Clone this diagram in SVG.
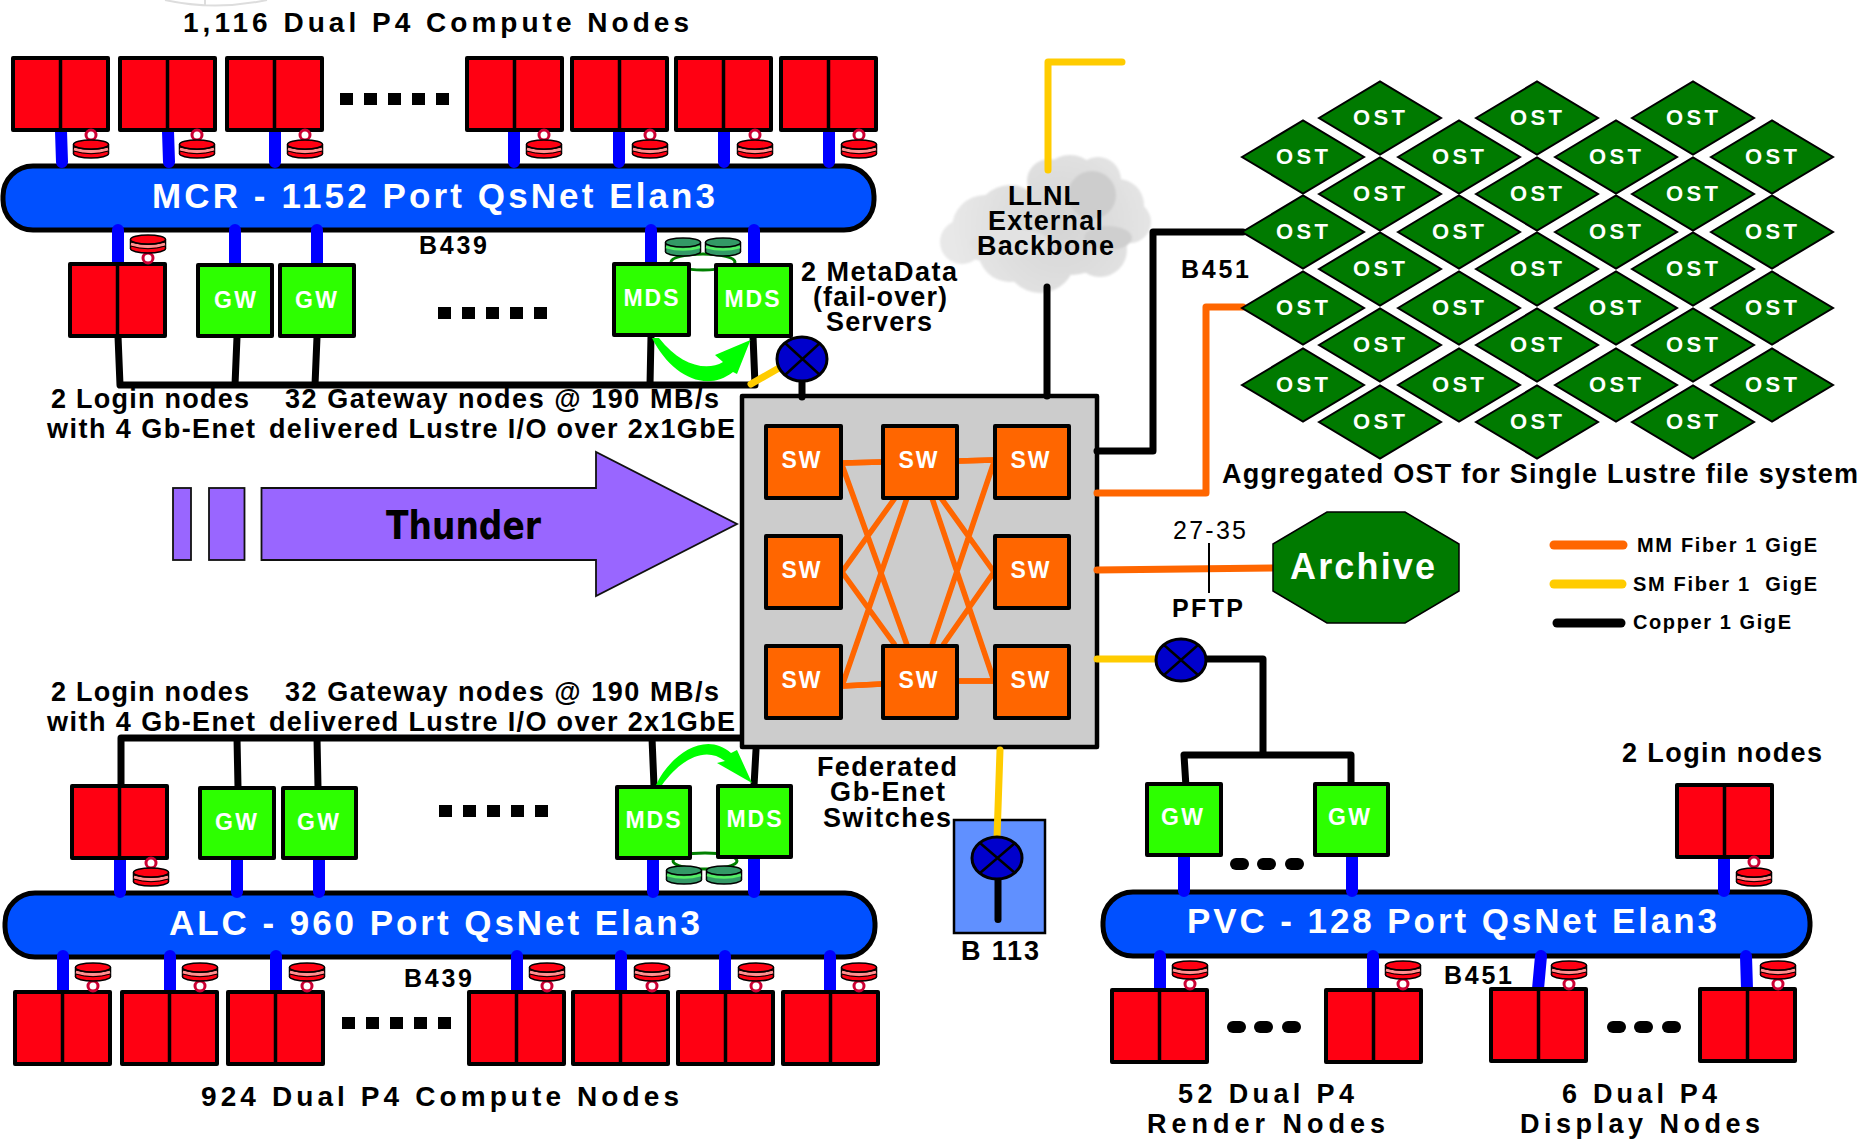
<svg xmlns="http://www.w3.org/2000/svg" width="1876" height="1141" viewBox="0 0 1876 1141">
<style>
text{font-family:"Liberation Sans",Arial,sans-serif;font-weight:bold;fill:#000}
.lb{font-size:27px}
.bus{fill:#0050ff;stroke:#000;stroke-width:5}
.bt{font-size:35px;fill:#fff}
.nt{font-size:23px;fill:#fff;text-anchor:middle}
.red{fill:#ff0012;stroke:#000;stroke-width:4;stroke-linejoin:round}
.gr{fill:#2dff00;stroke:#000;stroke-width:4;stroke-linejoin:round}
.sw{fill:#ff6600;stroke:#000;stroke-width:4;stroke-linejoin:round}
.ln{fill:none;stroke-linecap:round;stroke-linejoin:round}
.bl{stroke:#0000ff;stroke-width:12}
.k{stroke:#000;stroke-width:7}
.o{stroke:#ff6600;stroke-width:7}
.oi{stroke:#ff6600;stroke-width:5.5;stroke-linecap:butt}
.y{stroke:#ffcc00;stroke-width:7}
.ost{fill:#007a00;stroke:#000;stroke-width:2}
.ot{font-size:22px;fill:#fff;text-anchor:middle}
.x{fill:#0000cc;stroke:#000;stroke-width:3}
.pu{fill:#9966ff;stroke:#111;stroke-width:1.800}
</style>
<defs>
<g id="cn"><rect class="red" x="0" y="0" width="95" height="72"/><line x1="47.500" y1="0" x2="47.500" y2="72" stroke="#000" stroke-width="3.500"/></g>
<g id="disk"><ellipse cx="0" cy="4.500" rx="17.500" ry="4.500" fill="#ff0012" stroke="#000" stroke-width="1.500"/><rect x="-17.500" y="-4.500" width="35" height="9" fill="#ff0012"/><path d="M-17.500-4.500V4.500M17.500-4.500V4.500" stroke="#000" stroke-width="1.500"/><path d="M-17 0Q0 5 17 0" fill="none" stroke="#ff9090" stroke-width="3"/><path d="M-17.500 2Q0 7.500 17.500 2M-17.500-2Q0 3 17.500-2" fill="none" stroke="#000" stroke-width="1"/><ellipse cx="0" cy="-4.500" rx="17.500" ry="4.500" fill="#ff0012" stroke="#000" stroke-width="1.500"/></g>
<g id="gdisk"><ellipse cx="0" cy="4.500" rx="17.500" ry="4.500" fill="#339966" stroke="#000" stroke-width="1.500"/><rect x="-17.500" y="-4.500" width="35" height="9" fill="#339966"/><path d="M-17.500-4.500V4.500M17.500-4.500V4.500" stroke="#000" stroke-width="1.500"/><path d="M-17 0Q0 5 17 0" fill="none" stroke="#55ee66" stroke-width="2.500"/><ellipse cx="0" cy="-4.500" rx="17.500" ry="4.500" fill="#339966" stroke="#000" stroke-width="1.500"/></g>
<circle id="ring" r="5" fill="#fff" stroke="#cc0033" stroke-width="3"/>
<g id="dots"><rect x="0" width="13" height="12"/><rect x="24" width="13" height="12"/><rect x="48" width="13" height="12"/><rect x="72" width="13" height="12"/><rect x="96" width="13" height="12"/></g>
<g id="rd"><rect x="0" width="19" height="12" rx="6"/><rect x="27" width="19" height="12" rx="6"/><rect x="55" width="19" height="12" rx="6"/></g>
<polygon id="d" class="ost" points="-61,0 0,-36.500 61,0 0,36.500"/>
<radialGradient id="cg" gradientUnits="userSpaceOnUse" cx="1060" cy="225" r="110"><stop offset="0" stop-color="#d4d4d4"/><stop offset="1" stop-color="#e8e8e8"/></radialGradient>
<filter id="bf"><feGaussianBlur stdDeviation="1.200"/></filter>
</defs>

<path d="M165 0Q215 11 267 0M205 0V5" fill="none" stroke="#ddd" stroke-width="2"/>

<g id="cloud" filter="url(#bf)">
<g fill="url(#cg)"><circle cx="1049" cy="181" r="22"/><circle cx="1098" cy="180" r="23"/><circle cx="1118" cy="205" r="26"/><circle cx="1130" cy="222" r="21"/><circle cx="1100" cy="250" r="27"/><circle cx="1040" cy="258" r="35"/><circle cx="985" cy="228" r="33"/><circle cx="962" cy="242" r="22"/><circle cx="1010" cy="250" r="32"/><circle cx="1070" cy="225" r="50"/><circle cx="1010" cy="220" r="35"/><circle cx="1070" cy="185" r="30"/></g>
<ellipse cx="1092" cy="195" rx="24" ry="24" fill="#cdcdcd"/><ellipse cx="1108" cy="238" rx="24" ry="12" fill="#cfcfcf"/><ellipse cx="1010" cy="243" rx="40" ry="14" fill="#e2e2e2"/>
</g>

<g id="mcr"><rect class="bus" x="3" y="166" width="871" height="64" rx="30"/></g>
<g id="alc"><rect class="bus" x="5" y="893" width="870" height="64" rx="30"/></g>
<g id="pvc"><rect class="bus" x="1103" y="892" width="707" height="64" rx="30"/></g>

<g id="switch"><rect x="742" y="396" width="355" height="351" fill="#ccc" stroke="#000" stroke-width="4.500" stroke-linejoin="round"/></g>

<g id="connectors">
<g class="ln bl">
<path d="M61 131L62 162M168 131L169 162M275 131L275 162M514 131L514 162M619 131L619 162M724 131L724 162M829 131L829 162"/>
<path d="M118 230V265M235 230V265M317 230V265M651 230V264M754 230V264"/>
<path d="M120 859V892M237 859V892M319 859V892M653 859V892M754 859V892"/>
<path d="M63 991L63 956M170 991L170 956M276 991L276 956M517 991L517 956M621 991L621 956M725 991L725 956M830 991L830 956"/>
<path d="M1184 856V891M1352 856V891M1724 857V891"/>
<path d="M1160 989V956M1373 989V956M1538 989L1541 956M1747 989L1746 956"/>
</g>
<g class="ln k">
<path d="M118 336L120 385H755L753 336M237 337L235 385M317 337L315 385M651 336L650 385"/>
<path d="M121 790V738H740M652 738L654 786M756 750L754 786M237 738L238 787M317 738L318 787"/>
<path d="M802 380V397M1047 287V396M1097 451H1153V232H1243"/>
<path d="M1181 659H1263V755M1186 787L1184 755H1351V785"/>
</g>
<g class="ln y">
<path d="M751 384L779 368M1048 170V62H1122M1097 659H1160"/>
</g>
<g class="ln o">
<path d="M1097 493H1206V307H1243M1097 570L1275 568"/>
</g>
<path class="ln oi" d="M842 463L882 462M958 461L994 460M842 686L882 684M958 681L994 681M842 465L907 645M842 572L895 498M842 572L895 645M842 686L907 498M941 498L994 572M932 498L994 681M994 462L932 645M994 572L943 645"/>
<path d="M1209 543V593" fill="none" stroke="#000" stroke-width="2"/>
</g>

<g id="bus-labels">
<text class="bt" x="152" y="208" textLength="563">MCR - 1152 Port QsNet Elan3</text>
<text class="bt" x="169" y="935" textLength="531">ALC - 960 Port QsNet Elan3</text>
<text class="bt" x="1187" y="933" textLength="530">PVC - 128 Port QsNet Elan3</text>
</g>

<g id="top-nodes">
<g id="c1"><use href="#cn" x="13" y="58"/><use href="#ring" x="91" y="135"/><use href="#disk" x="91" y="149"/></g>
<g id="c2"><use href="#cn" x="120" y="58"/><use href="#ring" x="197" y="135"/><use href="#disk" x="197" y="149"/></g>
<g id="c3"><use href="#cn" x="227" y="58"/><use href="#ring" x="305" y="135"/><use href="#disk" x="305" y="149"/></g>
<g id="c4"><use href="#cn" x="467" y="58"/><use href="#ring" x="544" y="135"/><use href="#disk" x="544" y="149"/></g>
<g id="c5"><use href="#cn" x="572" y="58"/><use href="#ring" x="650" y="135"/><use href="#disk" x="650" y="149"/></g>
<g id="c6"><use href="#cn" x="676" y="58"/><use href="#ring" x="755" y="135"/><use href="#disk" x="755" y="149"/></g>
<g id="c7"><use href="#cn" x="781" y="58"/><use href="#ring" x="859" y="135"/><use href="#disk" x="859" y="149"/></g>
</g>
<use href="#dots" x="340" y="93"/><use href="#dots" x="438" y="307"/><use href="#dots" x="439" y="805"/><use href="#dots" x="342" y="1017"/>

<g id="mcr-login"><use href="#cn" x="70" y="264"/><use href="#ring" x="148" y="258"/><use href="#disk" x="148" y="244"/></g>
<g id="mcr-gw1"><rect class="gr" x="198" y="265" width="74" height="71"/><text class="nt" x="235" y="308" textLength="42">GW</text></g>
<g id="mcr-gw2"><rect class="gr" x="280" y="265" width="74" height="71"/><text class="nt" x="316" y="308" textLength="42">GW</text></g>
<g id="mcr-disks"><ellipse cx="703" cy="262" rx="32" ry="8" fill="none" stroke="#008000" stroke-width="3"/><use href="#gdisk" x="683" y="247"/><use href="#gdisk" x="723" y="247"/></g>
<g id="mcr-mds1"><rect class="gr" x="614" y="264" width="75" height="71"/><text class="nt" x="651" y="306" textLength="55">MDS</text></g>
<g id="mcr-mds2"><rect class="gr" x="716" y="265" width="75" height="71"/><text class="nt" x="752" y="307" textLength="55">MDS</text></g>
<path id="arrow-top" fill="#00ff00" d="M652 338C670 374 705 394 733 372L737 374L750.500 340L715 355L723 362C706 372 680 365 659 338Z"/>

<path class="ln oi" d="M842 463L882 462M958 461L994 460M842 686L882 684M958 681L994 681"/>
<g id="sw1"><rect class="sw" x="766" y="426" width="75" height="72"/><text class="nt" x="801" y="468" textLength="39">SW</text></g>
<g id="sw2"><rect class="sw" x="883" y="426" width="74" height="72"/><text class="nt" x="918" y="468" textLength="39">SW</text></g>
<g id="sw3"><rect class="sw" x="995" y="426" width="74" height="72"/><text class="nt" x="1030" y="468" textLength="39">SW</text></g>
<g id="sw4"><rect class="sw" x="766" y="536" width="75" height="72"/><text class="nt" x="801" y="578" textLength="39">SW</text></g>
<g id="sw5"><rect class="sw" x="995" y="536" width="74" height="72"/><text class="nt" x="1030" y="578" textLength="39">SW</text></g>
<g id="sw6"><rect class="sw" x="766" y="646" width="75" height="72"/><text class="nt" x="801" y="688" textLength="39">SW</text></g>
<g id="sw7"><rect class="sw" x="883" y="646" width="74" height="72"/><text class="nt" x="918" y="688" textLength="39">SW</text></g>
<g id="sw8"><rect class="sw" x="995" y="646" width="74" height="72"/><text class="nt" x="1030" y="688" textLength="39">SW</text></g>

<g id="x1"><ellipse class="x" cx="802" cy="359" rx="25" ry="22"/><path d="M785 343L820 375M820 343L785 375" stroke="#000" stroke-width="2.500"/></g>
<g id="x2"><ellipse class="x" cx="1181" cy="660" rx="25" ry="21"/><path d="M1164 645L1198 675M1198 645L1164 675" stroke="#000" stroke-width="2.500"/></g>

<g id="thunder"><rect class="pu" x="173" y="488" width="18" height="72"/><rect class="pu" x="209" y="488" width="35.500" height="72"/><polygon class="pu" points="261.500,488 596,488 596,452 737,524 596,596 596,560 261.500,560"/><text x="386" y="539" font-size="39" textLength="155" lengthAdjust="spacingAndGlyphs" style="font-family:'DejaVu Sans',sans-serif">Thunder</text></g>

<g id="login-l"><use href="#cn" x="72" y="786"/><use href="#ring" x="151" y="863"/><use href="#disk" x="151" y="877"/></g>
<g id="alc-gw1"><rect class="gr" x="200" y="788" width="74" height="70"/><text class="nt" x="236" y="830" textLength="42">GW</text></g>
<g id="alc-gw2"><rect class="gr" x="283" y="788" width="73" height="70"/><text class="nt" x="318" y="830" textLength="42">GW</text></g>
<g id="alc-disks"><ellipse cx="705" cy="861" rx="32" ry="8" fill="none" stroke="#008000" stroke-width="3"/><use href="#gdisk" x="684" y="875"/><use href="#gdisk" x="724" y="875"/></g>
<g id="alc-mds1"><rect class="gr" x="617" y="787" width="73" height="71"/><text class="nt" x="653" y="828" textLength="55">MDS</text></g>
<g id="alc-mds2"><rect class="gr" x="718" y="786" width="73" height="71"/><text class="nt" x="754" y="827" textLength="55">MDS</text></g>
<path id="arrow-bot" fill="#00ff00" d="M656 785C670 755 705 730 731 753L737 750L752 783L717 763L725 761C705 745 680 760 662 785Z"/>

<g id="bottom-nodes">
<g id="a1"><use href="#cn" x="15" y="992"/><use href="#ring" x="93" y="986"/><use href="#disk" x="93" y="972"/></g>
<g id="a2"><use href="#cn" x="122" y="992"/><use href="#ring" x="200" y="986"/><use href="#disk" x="200" y="972"/></g>
<g id="a3"><use href="#cn" x="228" y="992"/><use href="#ring" x="307" y="986"/><use href="#disk" x="307" y="972"/></g>
<g id="a4"><use href="#cn" x="469" y="992"/><use href="#ring" x="547" y="986"/><use href="#disk" x="547" y="972"/></g>
<g id="a5"><use href="#cn" x="573" y="992"/><use href="#ring" x="652" y="986"/><use href="#disk" x="652" y="972"/></g>
<g id="a6"><use href="#cn" x="678" y="992"/><use href="#ring" x="756" y="986"/><use href="#disk" x="756" y="972"/></g>
<g id="a7"><use href="#cn" x="783" y="992"/><use href="#ring" x="859" y="986"/><use href="#disk" x="859" y="972"/></g>
</g>

<g id="b113"><rect x="954" y="820" width="91" height="113" fill="#6090ff" stroke="#000" stroke-width="2.500"/><rect x="994.500" y="875" width="7" height="48" rx="3.500" fill="#000"/><path d="M1000 750L997 838" class="ln y"/><ellipse class="x" cx="997" cy="858" rx="25" ry="21"/><path d="M980 843L1015 873M1015 843L980 873" stroke="#000" stroke-width="2.500"/></g>

<g id="pvc-gw1"><rect class="gr" x="1147" y="784" width="74" height="71"/><text class="nt" x="1182" y="825" textLength="42">GW</text></g>
<g id="pvc-gw2"><rect class="gr" x="1315" y="784" width="73" height="71"/><text class="nt" x="1349" y="825" textLength="42">GW</text></g>
<g id="pvc-login"><use href="#cn" x="1677" y="785"/><use href="#ring" x="1754" y="862"/><use href="#disk" x="1754" y="877"/></g>
<g id="r1"><use href="#cn" x="1112" y="990"/><use href="#ring" x="1190" y="984"/><use href="#disk" x="1190" y="970"/></g>
<g id="r2"><use href="#cn" x="1326" y="990"/><use href="#ring" x="1403" y="984"/><use href="#disk" x="1403" y="970"/></g>
<g id="r3"><use href="#cn" x="1491" y="989"/><use href="#ring" x="1569" y="984"/><use href="#disk" x="1569" y="970"/></g>
<g id="r4"><use href="#cn" x="1700" y="989"/><use href="#ring" x="1778" y="984"/><use href="#disk" x="1778" y="970"/></g>
<use href="#rd" x="1230" y="858"/><use href="#rd" x="1227" y="1021"/><use href="#rd" x="1607" y="1021"/>

<g id="ost">
<g id="o1"><use href="#d" x="1303" y="157"/><text class="ot" x="1302" y="164" textLength="52">OST</text></g>
<g id="o2"><use href="#d" x="1303" y="232"/><text class="ot" x="1302" y="239" textLength="52">OST</text></g>
<g id="o3"><use href="#d" x="1303" y="308"/><text class="ot" x="1302" y="315" textLength="52">OST</text></g>
<g id="o4"><use href="#d" x="1303" y="385"/><text class="ot" x="1302" y="392" textLength="52">OST</text></g>
<g id="o5"><use href="#d" x="1380" y="118"/><text class="ot" x="1379" y="125" textLength="52">OST</text></g>
<g id="o6"><use href="#d" x="1380" y="194"/><text class="ot" x="1379" y="201" textLength="52">OST</text></g>
<g id="o7"><use href="#d" x="1380" y="269"/><text class="ot" x="1379" y="276" textLength="52">OST</text></g>
<g id="o8"><use href="#d" x="1380" y="345"/><text class="ot" x="1379" y="352" textLength="52">OST</text></g>
<g id="o9"><use href="#d" x="1380" y="422"/><text class="ot" x="1379" y="429" textLength="52">OST</text></g>
<g id="o10"><use href="#d" x="1459" y="157"/><text class="ot" x="1458" y="164" textLength="52">OST</text></g>
<g id="o11"><use href="#d" x="1459" y="232"/><text class="ot" x="1458" y="239" textLength="52">OST</text></g>
<g id="o12"><use href="#d" x="1459" y="308"/><text class="ot" x="1458" y="315" textLength="52">OST</text></g>
<g id="o13"><use href="#d" x="1459" y="385"/><text class="ot" x="1458" y="392" textLength="52">OST</text></g>
<g id="o14"><use href="#d" x="1537" y="118"/><text class="ot" x="1536" y="125" textLength="52">OST</text></g>
<g id="o15"><use href="#d" x="1537" y="194"/><text class="ot" x="1536" y="201" textLength="52">OST</text></g>
<g id="o16"><use href="#d" x="1537" y="269"/><text class="ot" x="1536" y="276" textLength="52">OST</text></g>
<g id="o17"><use href="#d" x="1537" y="345"/><text class="ot" x="1536" y="352" textLength="52">OST</text></g>
<g id="o18"><use href="#d" x="1537" y="422"/><text class="ot" x="1536" y="429" textLength="52">OST</text></g>
<g id="o19"><use href="#d" x="1616" y="157"/><text class="ot" x="1615" y="164" textLength="52">OST</text></g>
<g id="o20"><use href="#d" x="1616" y="232"/><text class="ot" x="1615" y="239" textLength="52">OST</text></g>
<g id="o21"><use href="#d" x="1616" y="308"/><text class="ot" x="1615" y="315" textLength="52">OST</text></g>
<g id="o22"><use href="#d" x="1616" y="385"/><text class="ot" x="1615" y="392" textLength="52">OST</text></g>
<g id="o23"><use href="#d" x="1693" y="118"/><text class="ot" x="1692" y="125" textLength="52">OST</text></g>
<g id="o24"><use href="#d" x="1693" y="194"/><text class="ot" x="1692" y="201" textLength="52">OST</text></g>
<g id="o25"><use href="#d" x="1693" y="269"/><text class="ot" x="1692" y="276" textLength="52">OST</text></g>
<g id="o26"><use href="#d" x="1693" y="345"/><text class="ot" x="1692" y="352" textLength="52">OST</text></g>
<g id="o27"><use href="#d" x="1693" y="422"/><text class="ot" x="1692" y="429" textLength="52">OST</text></g>
<g id="o28"><use href="#d" x="1772" y="157"/><text class="ot" x="1771" y="164" textLength="52">OST</text></g>
<g id="o29"><use href="#d" x="1772" y="232"/><text class="ot" x="1771" y="239" textLength="52">OST</text></g>
<g id="o30"><use href="#d" x="1772" y="308"/><text class="ot" x="1771" y="315" textLength="52">OST</text></g>
<g id="o31"><use href="#d" x="1772" y="385"/><text class="ot" x="1771" y="392" textLength="52">OST</text></g>
</g>

<g id="archive"><polygon points="1327,512 1405,512 1459,544 1459,591 1405,623 1327,623 1273,591 1273,544" fill="#007a00" stroke="#000" stroke-width="1.500"/><text x="1290" y="579" font-size="36" style="fill:#fff" textLength="145">Archive</text></g>

<g id="legend" class="ln">
<path d="M1554 545H1623" stroke="#ff6600" stroke-width="9"/><path d="M1554 584H1622" stroke="#ffcc00" stroke-width="9"/><path d="M1557 623H1621" stroke="#000" stroke-width="9"/>
</g>

<g id="labels" class="lb">
<text x="183" y="32" style="font-size:28px" textLength="506">1,116 Dual P4 Compute Nodes</text>
<text x="419" y="254" style="font-size:25px" textLength="68">B439</text>
<text x="1181" y="278" style="font-size:25px" textLength="68">B451</text>
<text x="404" y="987" style="font-size:25px" textLength="68">B439</text>
<text x="1444" y="984" style="font-size:25px" textLength="68">B451</text>
<text x="801" y="281" textLength="156">2 MetaData</text>
<text x="813" y="306" textLength="134">(fail-over)</text>
<text x="826" y="331" textLength="106">Servers</text>
<text x="1008" y="205" textLength="72">LLNL</text>
<text x="988" y="230" textLength="115">External</text>
<text x="977" y="255" textLength="137">Backbone</text>
<text x="51" y="408" textLength="198">2 Login nodes</text>
<text x="285" y="408" textLength="434">32 Gateway nodes @ 190 MB/s</text>
<text x="47" y="438" textLength="208">with 4 Gb-Enet</text>
<text x="269" y="438" textLength="466">delivered Lustre I/O over 2x1GbE</text>
<text x="51" y="701" textLength="198">2 Login nodes</text>
<text x="285" y="701" textLength="434">32 Gateway nodes @ 190 MB/s</text>
<text x="47" y="731" textLength="208">with 4 Gb-Enet</text>
<text x="269" y="731" textLength="466">delivered Lustre I/O over 2x1GbE</text>
<text x="817" y="776" textLength="140">Federated</text>
<text x="830" y="801" textLength="115">Gb-Enet</text>
<text x="823" y="827" textLength="128">Switches</text>
<text x="961" y="960" textLength="78">B 113</text>
<text x="1222" y="483" textLength="636">Aggregated OST for Single Lustre file system</text>
<text x="1173" y="539" style="font-size:25px;font-weight:normal" textLength="73">27-35</text>
<text x="1172" y="617" style="font-size:25px" textLength="71">PFTP</text>
<text x="1622" y="762" textLength="200">2 Login nodes</text>
<text x="201" y="1106" style="font-size:28px" textLength="478">924 Dual P4 Compute Nodes</text>
<text x="1178" y="1103" textLength="176">52 Dual P4</text>
<text x="1147" y="1133" textLength="238">Render Nodes</text>
<text x="1562" y="1103" textLength="155">6 Dual P4</text>
<text x="1520" y="1133" textLength="240">Display Nodes</text>
<text x="1637" y="552" style="font-size:20px" textLength="180">MM Fiber 1 GigE</text>
<text x="1633" y="591" style="font-size:20px;white-space:pre" textLength="184">SM Fiber 1  GigE</text>
<text x="1633" y="629" style="font-size:20px" textLength="158">Copper 1 GigE</text>
</g>
</svg>
